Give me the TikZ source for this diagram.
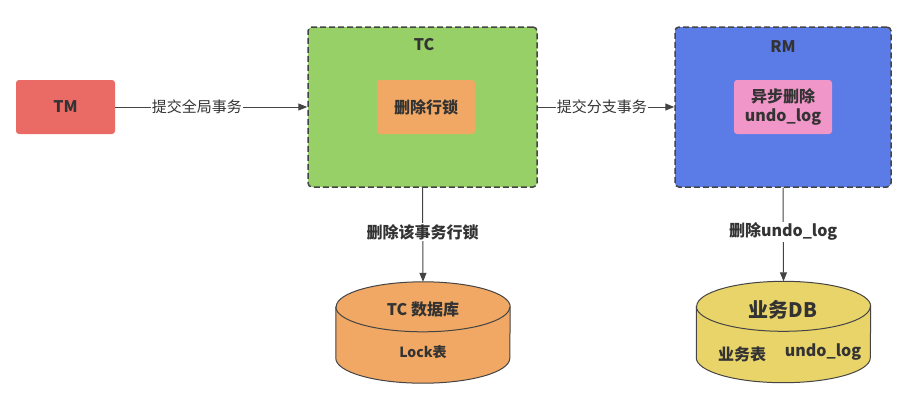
\documentclass[tikz,border=0pt]{standalone}
\usepackage{fontspec}
\setmainfont{Noto Sans CJK SC}
\usepackage{xcolor}
\usetikzlibrary{arrows.meta}
\definecolor{textcolor}{RGB}{51, 51, 51}
\definecolor{linecolor}{RGB}{68, 68, 68}
\definecolor{tmcolor}{RGB}{234, 107, 102}
\definecolor{tccolor}{RGB}{151, 208, 102}
\definecolor{rmcolor}{RGB}{91, 123, 230}
\definecolor{lockcolor}{RGB}{240, 168, 100}
\definecolor{undocolor}{RGB}{241, 150, 200}
\definecolor{dbcolor}{RGB}{233, 212, 106}

\tikzset{
        every node/.style={text=textcolor, font=\fontsize{15}{18}\selectfont},
        plainbox/.style={rounded corners=3, inner sep=0, font=\bfseries\fontsize{16}{19}\selectfont},
        groupbox/.style={draw=linecolor, line width=1.5, dash pattern=on 6 off 3, rounded corners=4, inner sep=0},
        flow/.style={draw=linecolor, line width=1, -{Triangle[length=9, width=7]}},
        flowlabel/.style={fill=white, inner sep=1},
        dbarea/.style={minimum width=174, minimum height=101, inner sep=0},
        dbtext/.style={font=\bfseries\fontsize{15}{18}\selectfont},
        dbline/.style={draw=linecolor, line width=1},
}

\begin{document}
\begin{tikzpicture}[x=1pt, y=-1pt]
        \useasboundingbox (0, 0) rectangle (908, 405);

        % Boxes {{{
        \node[plainbox, fill=tmcolor, minimum width=99, minimum height=54] (tm) at (65.5, 107) {TM};
        \node[groupbox, fill=tccolor, minimum width=229, minimum height=160] (tc) at (422.5, 107) {};
        \node[font=\bfseries\fontsize{16}{19}\selectfont] (tctitle) at (424, 45) {TC};
        \node[plainbox, fill=lockcolor, minimum width=98, minimum height=54] (rowlock) at (426, 107) {删除行锁};
        \node[groupbox, fill=rmcolor, minimum width=216, minimum height=160] (rm) at (783, 107) {};
        \node[font=\bfseries\fontsize{16}{19}\selectfont] (rmtitle) at (783, 47) {RM};
        \node[plainbox, fill=undocolor, minimum width=98, minimum height=54, align=center] (undo) at (783, 107) {异步删除\\undo\_log};
        % }}}

        % Databases {{{
        \node[dbarea] (tcdb) at (423, 332.5) {};
        \draw[dbline, fill=lockcolor]
                ([yshift=-25pt]tcdb.north west) -- ([yshift=25pt]tcdb.south west)
                arc[start angle=180, end angle=360, x radius=87pt, y radius=25pt]
                -- ([yshift=-25pt]tcdb.north east)
                arc[start angle=0, end angle=180, x radius=87pt, y radius=25pt] -- cycle;
        \draw[dbline] ([yshift=-25pt]tcdb.north west)
                arc[start angle=180, end angle=360, x radius=87pt, y radius=25pt];
        \node[dbtext, font=\bfseries\fontsize{16}{19}\selectfont] (tcdbname) at (423, 309) {TC 数据库};
        \node[dbtext, font=\bfseries\fontsize{14}{17}\selectfont] (locktable) at (423, 352) {Lock表};

        \node[dbarea] (bizdb) at (783.5, 332) {};
        \draw[dbline, fill=dbcolor]
                ([yshift=-25pt]bizdb.north west) -- ([yshift=25pt]bizdb.south west)
                arc[start angle=180, end angle=360, x radius=87pt, y radius=25pt]
                -- ([yshift=-25pt]bizdb.north east)
                arc[start angle=0, end angle=180, x radius=87pt, y radius=25pt] -- cycle;
        \draw[dbline] ([yshift=-25pt]bizdb.north west)
                arc[start angle=180, end angle=360, x radius=87pt, y radius=25pt];
        \node[dbtext, font=\bfseries\fontsize{20}{24}\selectfont] (bizdbname) at (783, 310) {业务DB};
        \node[dbtext, font=\bfseries\fontsize{16}{19}\selectfont] (biztable) at (742, 354) {业务表};
        \node[dbtext, font=\bfseries\fontsize{16}{19}\selectfont] (undotable) at (823, 352) {undo\_log};
        % }}}

        % Connectors {{{
        \draw[flow] (tm.east) -- (tc.west) node[flowlabel, pos=0.425] {提交全局事务};
        \draw[flow] (tc.east) -- (rm.west) node[flowlabel, pos=0.47] {提交分支事务};
        \draw[flow] (tc.south) -- (tcdb.north) node[flowlabel, pos=0.47, font=\bfseries\fontsize{16}{19}\selectfont] {删除该事务行锁};
        \draw[flow] (rm.south) -- (bizdb.north) node[flowlabel, pos=0.47, font=\bfseries\fontsize{16}{19}\selectfont] {删除undo\_log};
        % }}}
\end{tikzpicture}
\end{document}
